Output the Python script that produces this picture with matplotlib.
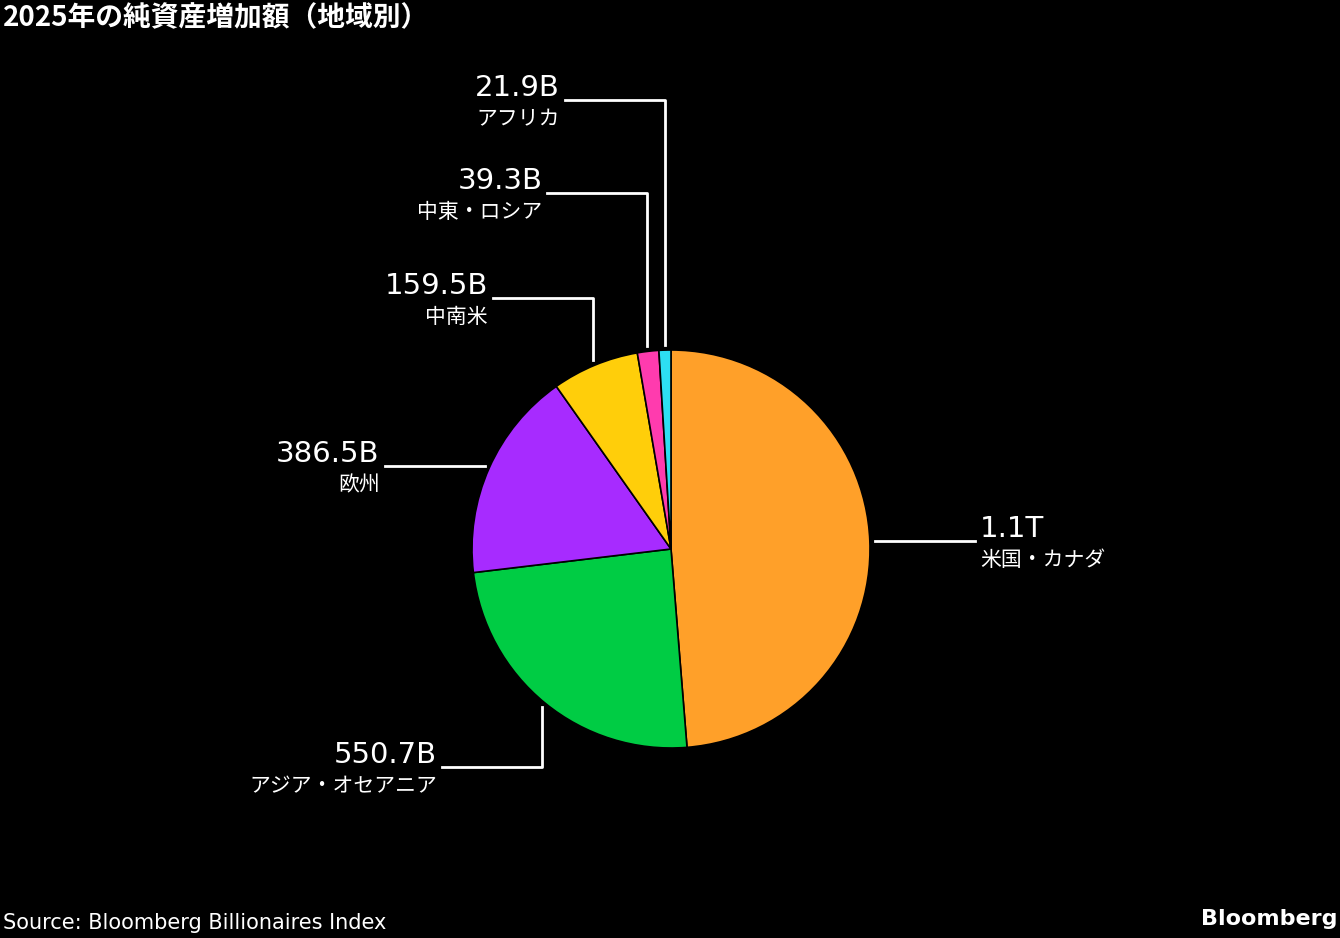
import numpy as np
import matplotlib.pyplot as plt

plt.rcParams['font.family'] = ['Noto Sans CJK JP', 'DejaVu Sans']

regions = ['米国・カナダ', 'アジア・オセアニア', '欧州', '中南米', '中東・ロシア', 'アフリカ']
values = [1100, 550.7, 386.5, 159.5, 39.3, 21.9]
value_labels = ['1.1T', '550.7B', '386.5B', '159.5B', '39.3B', '21.9B']
colors = ['#FFA029', '#00CC44', '#A72BFF', '#FFCE0A', '#FF3BAE', '#2DDFF2']

# label line y (pixels from top) and side; None = horizontal leader from edge
label_y = [None, 767, None, 298, 193, 100]
line_len = 100

fig = plt.figure(figsize=(13.4, 9.38), dpi=100, facecolor='black')
ax = fig.add_axes([0, 0, 1, 1])
ax.set_xlim(0, 1340)
ax.set_ylim(0, 938)
ax.set_aspect('equal')
ax.axis('off')

cx, cy, r = 671, 938 - 549, 199
wedges, _ = ax.pie(values, colors=colors, startangle=90, counterclock=False,
                   center=(cx, cy), radius=r, frame=True,
                   wedgeprops=dict(edgecolor='black', linewidth=1.2))
ax.set_xlim(0, 1340)
ax.set_ylim(0, 938)
ax.axis('off')

for w, val, reg, ly in zip(wedges, value_labels, regions, label_y):
    ang = np.deg2rad((w.theta1 + w.theta2) / 2)
    ex = cx + (r + 5) * np.cos(ang)
    ey = cy + (r + 5) * np.sin(ang)
    right = np.cos(ang) > 0.3
    if ly is None:
        yline = ey
        xs = [ex, ex + line_len] if right else [ex, ex - line_len]
        ys = [yline, yline]
    else:
        yline = 938 - ly
        xs = [ex, ex, ex - line_len]
        ys = [ey, yline, yline]
    ax.plot(xs, ys, color='white', lw=2)
    if right:
        tx, ha = xs[-1] + 5, 'left'
    else:
        tx, ha = xs[-1] - 5, 'right'
    ax.text(tx, yline - 2, val, color='white', fontsize=21, ha=ha, va='bottom',
            family=['DejaVu Sans'])
    ax.text(tx, yline - 8, reg, color='white', fontsize=15, ha=ha, va='top')

fig.text(0.002, 0.995, '2025年の純資産増加額（地域別）', color='white', fontsize=20,
         fontweight='bold', ha='left', va='top')
fig.text(0.002, 0.005, 'Source: Bloomberg Billionaires Index', color='white',
         fontsize=15, ha='left', va='bottom', family=['DejaVu Sans'])
fig.text(0.998, 0.01, 'Bloomberg', color='white', fontsize=16, fontweight='bold',
         ha='right', va='bottom', family=['DejaVu Sans'])

fig.savefig('out.png', dpi=100, facecolor='black')
